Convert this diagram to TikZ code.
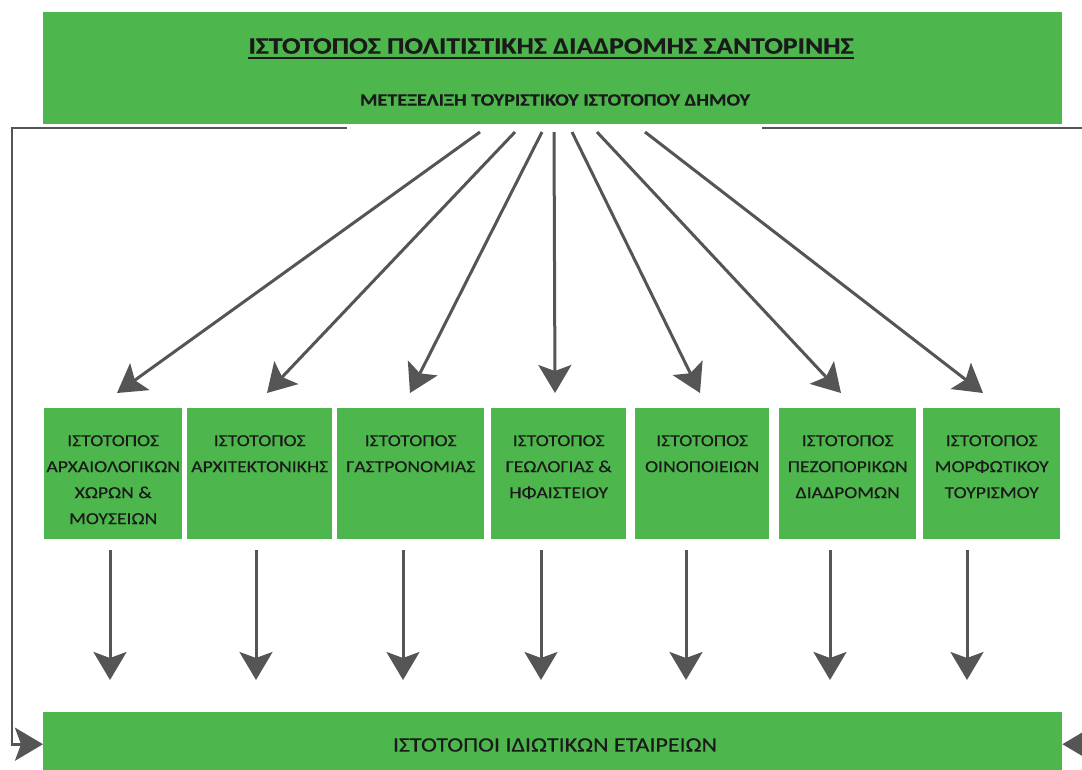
\documentclass[tikz,border=0pt]{standalone}
\usepackage{fontspec}
\setmainfont{Carlito}
\newfontfamily\widefont[FakeStretch=1.17, FakeBold=0.35, BoldFeatures={FakeBold=0.5}]{Carlito}
\usetikzlibrary{arrows.meta,calc}
\definecolor{boxgreen}{HTML}{4DB74D}
\definecolor{arrgrey}{HTML}{555555}
\definecolor{txt}{HTML}{1A1A1A}
\tikzset{
  gbox/.style={fill=boxgreen, draw=none, inner sep=0pt, anchor=north west},
  lbl/.style={font=\widefont\fontsize{16.8}{26}\selectfont, text=txt, align=center, inner sep=0pt, anchor=north},
  tip/.style={-{Stealth[length=28pt,width=33pt,inset=6pt]}},
  arr/.style={draw=arrgrey, line width=3pt, tip},
  frame/.style={draw=arrgrey, line width=2.8pt, tip},
}
\begin{document}
\begin{tikzpicture}[x=1pt,y=-1pt]
\useasboundingbox (0,0) rectangle (1082,769);
% top box
\node[gbox, minimum width=1019pt, minimum height=112pt] (top) at (43,12) {};
\node[font=\widefont\bfseries\fontsize{23.6}{28}\selectfont, text=txt, inner sep=0pt] (title) at (551,46)
  {ΙΣΤΟΤΟΠΟΣ ΠΟΛΙΤΙΣΤΙΚΗΣ ΔΙΑΔΡΟΜΗΣ ΣΑΝΤΟΡΙΝΗΣ};
\draw[txt, line width=1.8pt] ([yshift=-4pt]title.base west) -- ([yshift=-4pt]title.base east);
\node[font=\widefont\bfseries\fontsize{17.2}{20}\selectfont, text=txt, inner sep=0pt] (sub) at (555,100)
  {ΜΕΤΕΞΕΛΙΞΗ ΤΟΥΡΙΣΤΙΚΟΥ ΙΣΤΟΤΟΠΟΥ ΔΗΜΟΥ};
% middle boxes
\node[gbox, minimum width=138pt, minimum height=131pt] (b1) at (44,408) {};
\node[gbox, minimum width=145pt, minimum height=131pt] (b2) at (187,408) {};
\node[gbox, minimum width=147pt, minimum height=131pt] (b3) at (337,408) {};
\node[gbox, minimum width=135pt, minimum height=131pt] (b4) at (491,408) {};
\node[gbox, minimum width=134pt, minimum height=131pt] (b5) at (635,408) {};
\node[gbox, minimum width=137pt, minimum height=131pt] (b6) at (779,408) {};
\node[gbox, minimum width=137pt, minimum height=131pt] (b7) at (923,408) {};
\node[lbl] (l1) at ($(b1.north)+(0,27)$) {ΙΣΤΟΤΟΠΟΣ\\ΑΡΧΑΙΟΛΟΓΙΚΩΝ\\ΧΩΡΩΝ \&\\ΜΟΥΣΕΙΩΝ};
\node[lbl] (l2) at ($(b2.north)+(0,27)$) {ΙΣΤΟΤΟΠΟΣ\\ΑΡΧΙΤΕΚΤΟΝΙΚΗΣ};
\node[lbl] (l3) at ($(b3.north)+(0,27)$) {ΙΣΤΟΤΟΠΟΣ\\ΓΑΣΤΡΟΝΟΜΙΑΣ};
\node[lbl] (l4) at ($(b4.north)+(0,27)$) {ΙΣΤΟΤΟΠΟΣ\\ΓΕΩΛΟΓΙΑΣ \&\\ΗΦΑΙΣΤΕΙΟΥ};
\node[lbl] (l5) at ($(b5.north)+(0,27)$) {ΙΣΤΟΤΟΠΟΣ\\ΟΙΝΟΠΟΙΕΙΩΝ};
\node[lbl] (l6) at ($(b6.north)+(0,27)$) {ΙΣΤΟΤΟΠΟΣ\\ΠΕΖΟΠΟΡΙΚΩΝ\\ΔΙΑΔΡΟΜΩΝ};
\node[lbl] (l7) at ($(b7.north)+(0,27)$) {ΙΣΤΟΤΟΠΟΣ\\ΜΟΡΦΩΤΙΚΟΥ\\ΤΟΥΡΙΣΜΟΥ};
% bottom box
\node[gbox, minimum width=1019pt, minimum height=64pt] (bottom) at (43,712) {};
\node[font=\widefont\fontsize{20.5}{24}\selectfont, text=txt, inner sep=0pt] (btxt) at (555,745)
  {ΙΣΤΟΤΟΠΟΙ ΙΔΙΩΤΙΚΩΝ ΕΤΑΙΡΕΙΩΝ};
% diagonal arrows
\coordinate (s1) at (480,132); \coordinate (t1) at (117,393);
\coordinate (s2) at (515,132); \coordinate (t2) at (267,393);
\coordinate (s3) at (542,132); \coordinate (t3) at (410,393);
\coordinate (s4) at (554,132); \coordinate (t4) at (555,393);
\coordinate (s5) at (572,132); \coordinate (t5) at (700,393);
\coordinate (s6) at (597,132); \coordinate (t6) at (841,393);
\coordinate (s7) at (645,132); \coordinate (t7) at (983,393);
\foreach \i in {1,...,7} { \draw[arr] (s\i) -- (t\i); }
% vertical arrows
\coordinate (d1) at (110,0);
\coordinate (d2) at (256,0);
\coordinate (d3) at (403,0);
\coordinate (d4) at (541,0);
\coordinate (d5) at (686,0);
\coordinate (d6) at (830,0);
\coordinate (d7) at (967,0);
\foreach \i in {1,...,7} {
  \draw[arr, shorten <=11pt, shorten >=32pt] (b\i.south -| d\i) -- (bottom.north -| d\i);
}
% side frame
\coordinate (fl) at (347,128);
\coordinate (fr) at (762,128);
\draw[frame] (fl) -- ++(-335,0) |- (bottom.west);
\draw[frame] (fr) -- ++(330,0) |- (bottom.east);
\end{tikzpicture}
\end{document}
